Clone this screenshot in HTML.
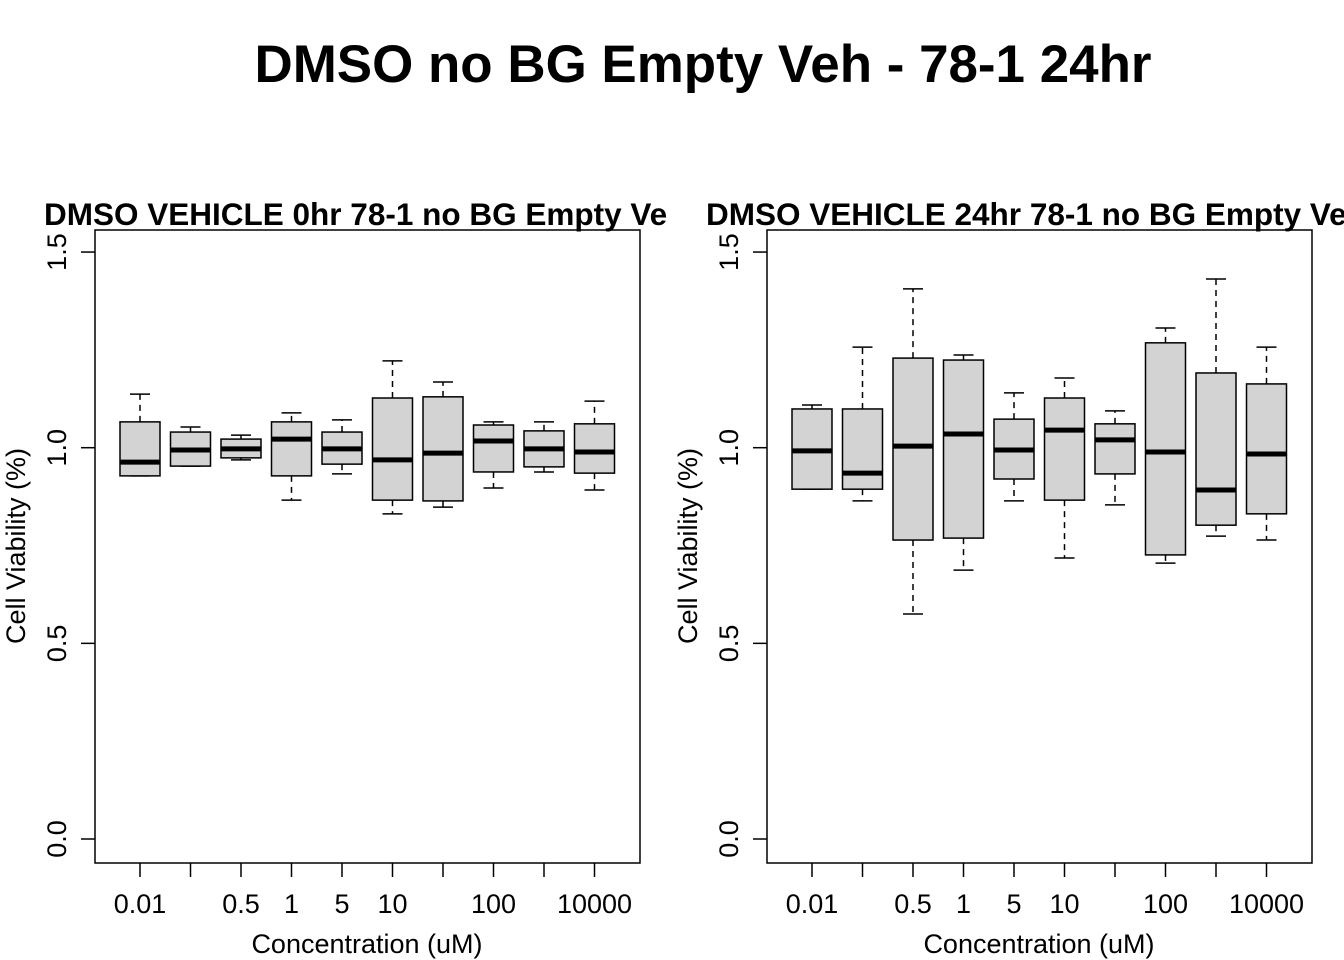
<!DOCTYPE html>
<html><head><meta charset="utf-8"><style>
html,body{margin:0;padding:0;background:#fff;}
svg{display:block;font-family:"Liberation Sans",Arial,sans-serif;}
</style></head><body>
<svg id="chart" width="1344" height="960" viewBox="0 0 1344 960" xmlns="http://www.w3.org/2000/svg">
<text x="703" y="82" text-anchor="middle" font-size="53" font-weight="bold" textLength="897" lengthAdjust="spacingAndGlyphs">DMSO no BG Empty Veh - 78-1 24hr</text>
</svg>
<script>
const categories = ["0.01","0.1","0.5","1","5","10","50","100","1000","10000"];
const tickLabels = ["0.01","","0.5","1","5","10","","100","","10000"];
const yTicks = [0, 0.5, 1.0, 1.5];
const yTickLabels = ["0.0","0.5","1.0","1.5"];
// left panel (0hr): whisker low, box low, median, box high, whisker high
const p1WhiskerLow = [0.928,0.953,0.969,0.866,0.933,0.831,0.848,0.897,0.938,0.892];
const p1BoxLow     = [0.928,0.953,0.974,0.928,0.958,0.866,0.864,0.938,0.951,0.935];
const p1Median     = [0.963,0.994,0.997,1.022,0.997,0.969,0.986,1.017,0.997,0.989];
const p1BoxHigh    = [1.066,1.040,1.022,1.066,1.040,1.127,1.130,1.058,1.043,1.061];
const p1WhiskerHigh= [1.137,1.053,1.032,1.089,1.071,1.222,1.168,1.066,1.066,1.119];
// right panel (24hr)
const p2WhiskerLow = [0.894,0.864,0.575,0.687,0.864,0.718,0.854,0.705,0.774,0.764];
const p2BoxLow     = [0.894,0.894,0.764,0.769,0.920,0.866,0.933,0.726,0.802,0.831];
const p2Median     = [0.992,0.935,1.004,1.035,0.994,1.045,1.020,0.989,0.892,0.984];
const p2BoxHigh    = [1.099,1.099,1.229,1.224,1.073,1.127,1.061,1.268,1.191,1.163];
const p2WhiskerHigh= [1.109,1.257,1.406,1.237,1.140,1.178,1.094,1.306,1.431,1.257];

const NS="http://www.w3.org/2000/svg";
const svg=document.getElementById('chart');
function mk(tag,attrs,parent){const e=document.createElementNS(NS,tag);for(const k in attrs)e.setAttribute(k,attrs[k]);(parent||svg).appendChild(e);return e;}

function panel(x0,titleX,title,wl,bl,md,bh,wh,id){
  const g=mk('g',{});
  
  
  const left=x0, right=x0+545, top=230, bottom=863;
  const yS=v=>839-v*391.3;
  const xS=i=>left+45+i*50.5;
  const t=mk('text',{x:titleX,y:225,'font-size':31.5,'font-weight':'bold'},g);
  t.textContent=title;
  
  
  const frame=mk('rect',{x:left,y:top,width:right-left,height:bottom-top,fill:'none',stroke:'#000','stroke-width':1.5},g);
  
  
  yTicks.forEach((v,i)=>{
    const y=yS(v);
    mk('line',{x1:left,x2:left-14,y1:y,y2:y,stroke:'#000','stroke-width':1.5},g);
    const lb=mk('text',{x:0,y:0,'font-size':27,'text-anchor':'middle',transform:`translate(${left-29},${y}) rotate(-90)`},g);
    lb.textContent=yTickLabels[i];
    
    
  });
  const ya=mk('text',{x:0,y:0,'font-size':27,'text-anchor':'middle',transform:`translate(${left-70},546) rotate(-90)`},g);
  ya.textContent='Cell Viability (%)';
  
  
  const xa=mk('text',{x:left+272,y:953,'font-size':27,'text-anchor':'middle'},g);
  xa.textContent='Concentration (uM)';
  
  
  categories.forEach((c,i)=>{
    const x=xS(i);
    mk('line',{x1:x,x2:x,y1:bottom,y2:bottom+14,stroke:'#000','stroke-width':1.5},g);
    if(tickLabels[i]){
      const tl=mk('text',{x:x,y:913,'font-size':27,'text-anchor':'middle'},g);
      tl.textContent=tickLabels[i];
      
      
    }
    const bg=mk('g',{},g);
    
    
    const hw=20, cw=10;
    mk('line',{x1:x,x2:x,y1:yS(bh[i]),y2:yS(wh[i]),stroke:'#000','stroke-width':1.5,'stroke-dasharray':'6,5'},bg);
    mk('line',{x1:x,x2:x,y1:yS(bl[i]),y2:yS(wl[i]),stroke:'#000','stroke-width':1.5,'stroke-dasharray':'6,5'},bg);
    mk('line',{x1:x-cw,x2:x+cw,y1:yS(wh[i]),y2:yS(wh[i]),stroke:'#000','stroke-width':1.5},bg);
    mk('line',{x1:x-cw,x2:x+cw,y1:yS(wl[i]),y2:yS(wl[i]),stroke:'#000','stroke-width':1.5},bg);
    mk('rect',{x:x-hw,y:yS(bh[i]),width:2*hw,height:yS(bl[i])-yS(bh[i]),fill:'#d3d3d3',stroke:'#000','stroke-width':1.5},bg);
    mk('line',{x1:x-hw,x2:x+hw,y1:yS(md[i]),y2:yS(md[i]),stroke:'#000','stroke-width':5},bg);
  });
}
panel(95,44,'DMSO VEHICLE 0hr 78-1 no BG Empty Ve',p1WhiskerLow,p1BoxLow,p1Median,p1BoxHigh,p1WhiskerHigh,'left');
panel(767,706,'DMSO VEHICLE 24hr 78-1 no BG Empty Ve',p2WhiskerLow,p2BoxLow,p2Median,p2BoxHigh,p2WhiskerHigh,'right');
</script>
</body></html>
